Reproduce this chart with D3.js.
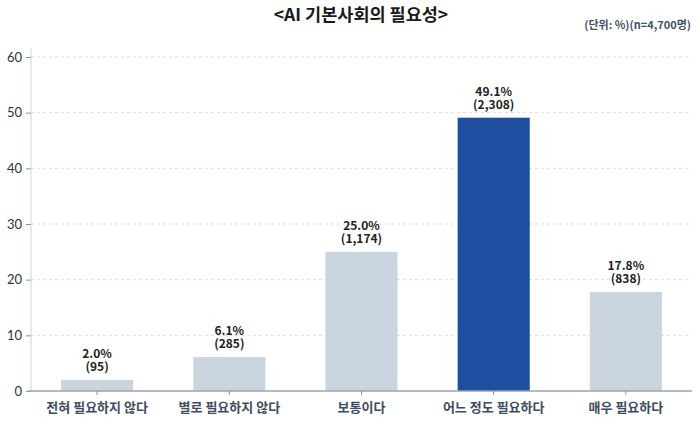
<!DOCTYPE html>
<html><head><meta charset="utf-8">
<script src="https://cdn.jsdelivr.net/npm/d3@7"></script>
<style>body{margin:0;background:#fff}svg{display:block}</style>
</head><body>
<svg id="c" width="700" height="424"></svg>
<script>
const categories = ["전혀 필요하지 않다","별로 필요하지 않다","보통이다","어느 정도 필요하다","매우 필요하다"];
const percents = [2.0, 6.1, 25.0, 49.1, 17.8];
const counts = ["95","285","1,174","2,308","838"];
const yTicks = [0,10,20,30,40,50,60];
const title = "<AI 기본사회의 필요성>";
const subtitle = "(단위: %)(n=4,700명)";

const svg = d3.select("#c");
const font = "'Noto Sans CJK KR','Noto Sans',sans-serif";
const m = {l:31, r:8, t:57, b:33};
const W = 700, H = 424;
const x = d3.scaleBand().domain(categories).range([m.l, W-m.r]).paddingInner(0.4545).paddingOuter(0.2273);
const y = d3.scaleLinear().domain([0,60]).range([H-m.b, m.t]);

svg.append("text").attr("x",361).attr("y",21).attr("text-anchor","middle")
  .attr("font-family",font).attr("font-weight","bold").attr("font-size",17.5).attr("fill","#1a1a1a").text(title);
svg.append("text").attr("x",691).attr("y",29).attr("text-anchor","end")
  .attr("font-family",font).attr("font-weight","bold").attr("font-size",11).attr("fill","#44536a").text(subtitle);

// grid
svg.append("g").selectAll("line").data(yTicks.filter(d=>d>0)).join("line")
  .attr("x1",m.l).attr("x2",W-m.r).attr("y1",d=>y(d)).attr("y2",d=>y(d))
  .attr("stroke","#dcdcdc").attr("stroke-dasharray","3,3");

// y axis
svg.append("line").attr("x1",m.l).attr("x2",m.l).attr("y1",48).attr("y2",y(0))
  .attr("stroke","#dde3ee").attr("stroke-width",1.5);
const ya = svg.append("g").attr("transform",`translate(${m.l},0)`)
  .call(d3.axisLeft(y).tickValues(yTicks).tickSize(5).tickPadding(4));
ya.select(".domain").remove();
ya.selectAll("line").attr("stroke","#8a93a0");
ya.selectAll("text").attr("font-family","Lato,'Noto Sans',sans-serif").attr("font-size",13).attr("fill","#333");

// bars
svg.append("g").selectAll("rect").data(categories).join("rect")
  .attr("x",d=>x(d)).attr("width",x.bandwidth())
  .attr("y",(d,i)=>y(percents[i])).attr("height",(d,i)=>y(0)-y(percents[i]))
  .attr("fill",(d,i)=>i===3?"#1f4ea1":"#cbd5e0");

// x axis
const xa = svg.append("g").attr("transform",`translate(0,${y(0)})`)
  .call(d3.axisBottom(x).tickSize(4).tickPadding(8).tickSizeOuter(0));
xa.select(".domain").attr("stroke","#9aa3ae").attr("stroke-width",1.5).attr("d",`M${m.l-3},0H${W-m.r}`);
xa.selectAll("line").attr("stroke","#8a93a0");
xa.selectAll("text").attr("font-family",font).attr("font-weight","bold").attr("font-size",13).attr("fill","#3f4b5e");

// labels
const lg = svg.append("g").attr("font-family",font).attr("font-weight","bold").attr("font-size",12)
  .attr("fill","#222").attr("text-anchor","middle");
categories.forEach((c,i)=>{
  const cx = x(c)+x.bandwidth()/2, ty = y(percents[i]);
  const t = lg.append("text").attr("x",cx).attr("y",ty-22);
  t.append("tspan").attr("x",cx).text(percents[i].toFixed(1)+"%");
  t.append("tspan").attr("x",cx).attr("dy",13).text("("+counts[i]+")");
});
</script>
</body></html>
